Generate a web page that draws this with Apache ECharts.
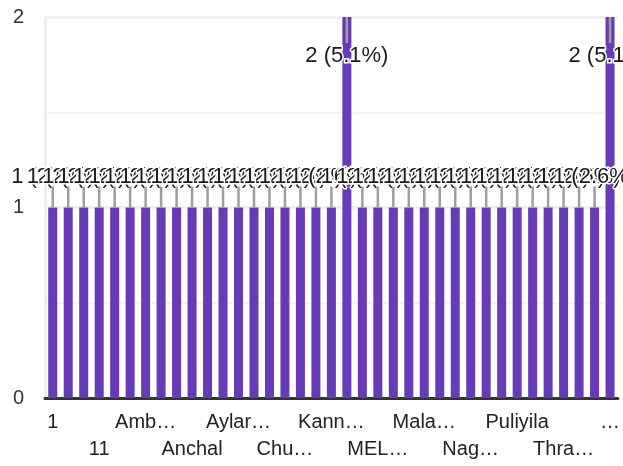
<!DOCTYPE html>
<html>
<head>
<meta charset="utf-8">
<script src="https://cdn.jsdelivr.net/npm/echarts@6/dist/echarts.min.js"></script>
<style>
  html, body { margin: 0; padding: 0; background: #fff; }
  #chart { width: 623px; height: 466px; }
</style>
</head>
<body>
<div id="chart"></div>
<script>
// Category labels (alphabetical, as shown / truncated in the original)
const categories = [
  "1", "10", "100", "11", "12", "Adoor", "Amb…", "Ambalavayal", "Anakkara",
  "Anchal", "Angamaly", "Aroor", "Aylar…", "Chadayamangalam", "Cherthala",
  "Chu…", "Edappal", "Kalpetta", "Kann…", "Kollam", "Kottayam", "MEL…",
  "Madayi", "Mahe", "Mala…", "Mananthavady", "Mavelikkara", "Nag…",
  "Nedumangad", "Pathanapuram", "Puliyila", "Punalur", "Sasthamcotta",
  "Thra…", "Thrissur", "Vaikom", "…"
];
// Response counts per category
const counts = [
  1, 1, 1, 1, 1, 1, 1, 1, 1,
  1, 1, 1, 1, 1, 1,
  1, 1, 1, 1, 2, 1, 1,
  1, 1, 1, 1, 1, 1,
  1, 1, 1, 1, 1,
  1, 1, 1, 2
];
// Y axis ticks
const yTicks = [0, 1, 2];

const yMin = yTicks[0];
const yMax = yTicks[yTicks.length - 1];
const total = counts.reduce((a, b) => a + b, 0);

const chart = echarts.init(document.getElementById('chart'), null, { renderer: 'canvas' });

const barData = counts.map(v => v >= yMax
  ? { value: v, label: { position: 'insideTop', distance: 28 } }
  : v);

chart.setOption({
  animation: false,
  backgroundColor: '#ffffff',
  grid: { left: 45, right: 2, top: 17, bottom: 68, containLabel: false },
  xAxis: {
    type: 'category',
    data: categories,
    axisLine: { show: true, lineStyle: { color: '#333333', width: 3 } },
    axisTick: { show: false },
    splitLine: { show: false },
    axisLabel: {
      interval: 0,
      margin: 11,
      fontFamily: 'Arial, "Liberation Sans", sans-serif',
      fontSize: 20,
      lineHeight: 27,
      color: '#222222',
      formatter: function (val, idx) {
        if (idx % 3 !== 0) return '';
        return (Math.floor(idx / 3) % 2 === 1) ? '\n' + val : val;
      }
    }
  },
  yAxis: {
    type: 'value',
    min: yMin,
    max: yMax,
    interval: 1,
    axisLine: { show: true, lineStyle: { color: '#eeeeee', width: 3 } },
    axisTick: { show: false },
    axisLabel: {
      margin: 21,
      fontFamily: 'Arial, "Liberation Sans", sans-serif',
      fontSize: 20,
      color: '#333333'
    },
    splitLine: { show: true, lineStyle: { color: '#eeeeee', width: 2.5 } },
    minorTick: { show: false, splitNumber: 2 },
    minorSplitLine: { show: true, lineStyle: { color: '#f4f4f4', width: 2 } }
  },
  series: [
    {
      type: 'bar',
      data: barData,
      barWidth: 9,
      itemStyle: { color: '#673ab7' },
      z: 2,
      label: {
        show: true,
        position: 'top',
        distance: 20,
        fontFamily: 'Arial, "Liberation Sans", sans-serif',
        fontSize: 22,
        color: '#1a1a1a',
        textBorderColor: '#ffffff',
        textBorderWidth: 3,
        formatter: function (p) {
          const pct = (p.value / total * 100).toFixed(1);
          return p.value + ' (' + pct + '%)';
        }
      }
    },
    {
      type: 'custom',
      z: 3,
      silent: true,
      data: counts.map((v, i) => [i, v]),
      renderItem: function (params, api) {
        const i = api.value(0);
        const v = api.value(1);
        const p = api.coord([i, v]);
        let y1, y2;
        if (v >= yMax) { y1 = p[1]; y2 = p[1] + 26; }
        else { y1 = p[1] - 21; y2 = p[1]; }
        return {
          type: 'line',
          shape: { x1: p[0], y1: y1, x2: p[0], y2: y2 },
          style: { stroke: '#9e9e9e', lineWidth: 2.5 }
        };
      }
    }
  ]
});
</script>
</body>
</html>
